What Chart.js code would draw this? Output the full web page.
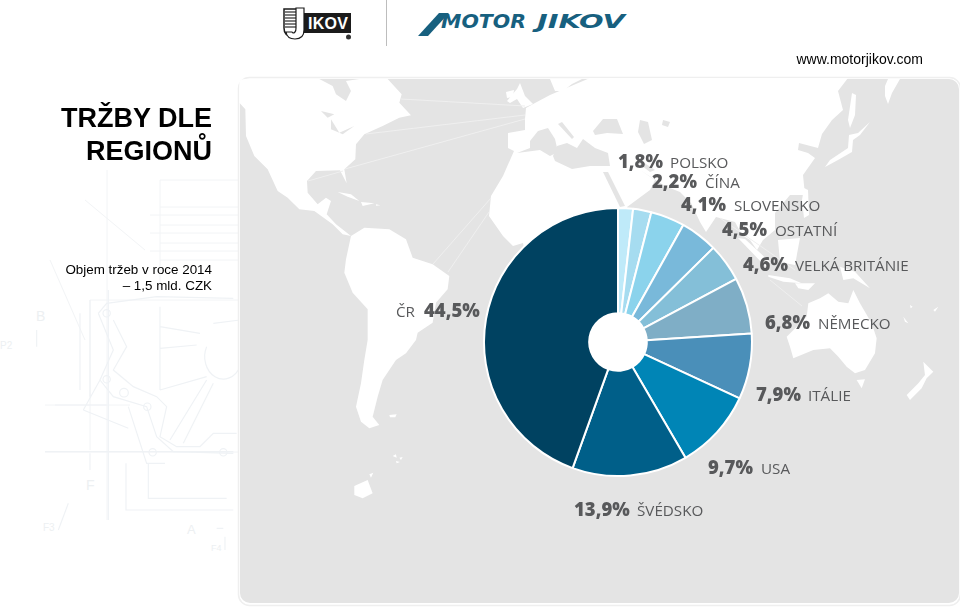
<!DOCTYPE html>
<html lang="cs">
<head>
<meta charset="utf-8">
<title>Tržby dle regionů</title>
<script src="https://cdn.jsdelivr.net/npm/chart.js@4"></script>
<style>
  html, body { margin: 0; padding: 0; background: #fff; }
  #page { position: relative; width: 960px; height: 608px; overflow: hidden; font-family: "Liberation Sans", sans-serif; }
  #backdrop, #chart { position: absolute; left: 0; top: 0; }
  .t { position: absolute; text-align: right; color: #000; white-space: nowrap; }
</style>
</head>
<body>
<div id="page">
  <svg id="backdrop" width="960" height="608" viewBox="0 0 960 608">
    <!-- faint technical drawing behind the heading -->
    <g fill="none" stroke="#f2f4f6" stroke-width="1">
      <path d="M107 170V520M160 180H238M160 180V290M160 207H238M160 225H238M160 243H238M160 260H238M150 215H238M150 233H238M150 251H238"/>
      <path d="M90 300H238M90 300V450M45 405H130M45 452H238M85 340L50 260M85 200L145 250"/>
    </g>
    <g transform="translate(0 290) scale(.3333)" fill="none" stroke="#eff2f5" stroke-width="3.500">
      <path d="M295 70L320 40L470 20L700 25M295 70L340 180L300 270L340 320L440 350L470 440L520 485L700 490"/>
      <path d="M340 90L380 170L340 240L400 290L470 320L500 350L480 440L530 470L600 470L640 430L710 430"/>
      <path d="M480 50L480 300M480 110L600 130M480 175L590 165M480 300L620 260M510 450L620 270M550 460L640 280M640 100L720 90M620 170A50 60 0 1 0 720 230"/>
      <path d="M250 360L300 270M250 360L385 415M385 350L440 520H495M135 485H700M165 345H320M240 70V300M270 30V320"/>
      <circle cx="320" cy="70" r="11"/><circle cx="320" cy="268" r="11"/><circle cx="442" cy="350" r="11"/><circle cx="458" cy="487" r="11"/><circle cx="670" cy="487" r="11"/><circle cx="372" cy="308" r="13"/>
      <path d="M445 520V625H680M378 520V660H700M325 0V690M205 640L175 720M270 490V540M110 120V170M650 715H670M675 740V780"/>
    </g>
    <g font-family="Liberation Sans" fill="#edf0f2">
      <text x="36" y="321" font-size="14">B</text>
      <text x="0" y="349" font-size="10">P2</text>
      <text x="86" y="490" font-size="14">F</text>
      <text x="43" y="531" font-size="10">F3</text>
      <text x="187" y="534" font-size="13">A</text>
      <text x="211" y="551" font-size="9">F4</text>
    </g>

    <!-- logos -->
    <g>
      <rect x="300" y="13" width="51" height="20" fill="#1b1b1b"/>
      <path d="M284 9H300V28Q300 36 292 36Q284 36 284 28Z" fill="#fff" stroke="#1b1b1b" stroke-width="1.500"/>
      <path d="M285 12H299M285 15H299M285 18H299M285 21H299M285 24H299M285 27H299" stroke="#555" stroke-width="1.500"/>
      <path d="M296 8H304V30Q304 39 295 39Q287 39 286 32H292Q293 34 295 32Q296 31 296 28Z" fill="#fff" stroke="#1b1b1b" stroke-width="1.200"/>
      <text x="308" y="29" font-family="Liberation Sans" font-weight="700" font-size="16" fill="#fff" textLength="40">IKOV</text>
      <circle cx="348.500" cy="37" r="2.500" fill="#333"/>
      <rect x="386" y="0" width="1" height="46" fill="#bdbdbd"/>
      <path d="M418 36L439 13H449L428 36Z" fill="#17607f"/>
      <text x="441" y="28" font-family="DejaVu Sans" font-weight="700" font-style="italic" font-size="20" fill="#17607f" textLength="85" lengthAdjust="spacingAndGlyphs">MOTOR</text>
      <text x="537" y="28" font-family="DejaVu Sans" font-weight="700" font-style="italic" font-size="20" fill="#17607f" textLength="88" lengthAdjust="spacingAndGlyphs">JIKOV</text>
    </g>

    <!-- map panel -->
    <rect x="238.500" y="77.500" width="722" height="528" rx="11" fill="#fff" stroke="#efefef" stroke-width="1.500"/>
    <rect x="240" y="79" width="719" height="524" rx="10" fill="#e4e4e4"/>
    <g fill="#fff">
      <!-- americas, drawn in crop coordinates -->
      <g transform="translate(236 76) scale(.3333)">
        <path d="M10 20Q10 9 30 9L250 9L290 30L300 55L330 75L345 45L330 15L370 9L455 9L497 55L490 80L525 118L490 125L440 150L385 175L360 205L358 250L325 280L332 322L312 283L240 285L213 315L215 350L245 385L270 365L285 375L272 415L300 445L345 480L320 475L290 445L235 405L190 400L155 365L125 345L95 280L55 240L30 180L28 100L10 80Z"/>
        <path d="M345 480L385 455L460 460L510 490L530 545L590 565L640 600L635 640L600 680L590 740L545 770L540 792L510 832L480 852L440 912L425 962L410 1022L430 1047L400 1057L375 1037L360 992L375 922L385 852L395 792L395 700L350 650L325 590L330 550Z"/>
        <path d="M305 348L345 355L370 375L335 362ZM375 378L415 382L380 390ZM420 385L433 388L420 389Z"/>
        <path d="M460 1017L482 1015L478 1024L462 1024ZM355 1230L395 1212L410 1252L380 1267L355 1257ZM400 1195L412 1190L405 1205ZM470 1140L480 1135L482 1145ZM490 1145L500 1143L495 1152ZM480 1155L492 1158L482 1162Z"/>
      </g>
      <!-- old world -->
      <path d="M525 119L526 108L535 103L550 95L590 78L848 78L838 91L843 110L832 120L822 134L818 148L799 143L798 150L808 153L815 158L803 175L805 195L790 195L775 213L775 230L763 240L757 250L750 240L742 235L735 222L716 217L706 232L700 222L691 203L680 192L665 186L640 170L655 180L650 190L627 207L670 400L560 400L523 243L513 246L503 236L489 216L491 196L503 176L514 151L508 148L508 133L525 130Z"/>
      <path d="M507 101L517 89L520 83L525 96L533 104L523 108L517 99L510 103Z"/>
      <path d="M506 92L514 90L513 97L507 98Z"/>
      <path d="M550 79L555 91L563 91L572 84L582 79Z"/>
      <path d="M885 86L888 79L900 79L892 93L888 104L885 96Z"/>
      <path d="M852 93L856 95L855 115L850 128L848 120Z"/>
      <path d="M870 122L858 133L849 135L848 148L830 160L825 167L838 160L852 152L853 140L860 135Z"/>
      <path d="M804 188L808 190L809 215L804 218L802 200Z"/>
      <path d="M738 238L745 239L770 262L766 267Z"/>
      <path d="M778 240L800 238L795 265L780 262Z"/>
      <g transform="translate(740 260) scale(.3333)">
        <path d="M85 45L150 55L185 70L130 65L85 50Z"/>
        <path d="M165 70L225 70L205 90L175 85Z"/>
        <path d="M300 20L345 35L390 85L365 70L340 55L310 60Z"/>
        <path d="M140 230L200 170L205 130L240 115L265 100L295 125L325 130L340 90L360 130L395 190L410 235L405 280L375 330L345 340L320 320L295 290L270 265L220 270L160 295L150 260Z"/>
        <path d="M350 360L375 358L365 385Z"/>
        <path d="M550 305L580 335L560 355L545 385L510 420L500 405L535 370L555 345Z"/>
        <path d="M490 170L505 190L495 185ZM580 150L595 140L585 155ZM510 135L518 140L512 145Z"/>
      </g>
    </g>
    <g fill="#e4e4e4">
      <!-- seas cut out of the land -->
      <path d="M517 153L530 148L530 141L538 131L548 128L555 139L558 152L550 156L540 150Z"/>
      <path d="M553 156L557 146L567 143L577 148L583 139L595 148L608 153L610 166L590 166L572 169L555 161Z"/>
      <path d="M558 124L572 139L574 137L562 122Z"/>
      <path d="M593 131L603 119L617 119L623 134L607 133L595 135Z"/>
      <path d="M640 120L648 122L652 140L644 144L638 132Z"/>
      <path d="M663 120L670 122L668 127L662 125Z"/>
      <path d="M603 172L608 172L625 206L620 207Z"/>
      <path d="M640 160L655 170L650 172L638 163Z"/>
      <g transform="translate(236 76) scale(.3333)">
        <path d="M255 105L295 115L275 125ZM285 130L310 170L285 160ZM310 170L355 150L320 175Z"/>
      </g>
    </g>
    <path d="M401 99L525 106M366 134L525 115M345 169L525 119M308 181L343 171M433 264L491 198M448 272L489 212M720 218L795 270M770 280L802 306" fill="none" stroke="#efefef" stroke-width="1"/>
  </svg>

  <canvas id="chart" width="960" height="608"></canvas>

  <div class="t" style="right:748px;top:102px;font-size:27px;font-weight:700;line-height:33px">TRŽBY DLE<br>REGIONŮ</div>
  <div class="t" style="right:748px;top:262px;font-size:13.400px;line-height:16px">Objem tržeb v roce 2014<br>– 1,5 mld. CZK</div>
  <div class="t" style="right:37px;top:50px;font-size:14px;line-height:18px">www.motorjikov.com</div>
</div>

<script>
// Clockwise from 12 o'clock
const regions = ["POLSKO", "ČÍNA", "SLOVENSKO", "OSTATNÍ", "VELKÁ BRITÁNIE", "NĚMECKO", "ITÁLIE", "USA", "ŠVÉDSKO", "ČR"];
const shares = [1.8, 2.2, 4.1, 4.5, 4.6, 6.8, 7.9, 9.7, 13.9, 44.5];
const sliceColors = ["#bfeaf9", "#a6dcf0", "#8bd3ec", "#79b9da", "#84bfd8", "#7faec6", "#4a8fb9", "#0085b6", "#005f89", "#004261"];

// Where each text sits: [x of percentage, x of name, baseline]
const labelSpots = [
  [618, 670, 168], [652, 705, 188], [681, 734, 211], [722, 775, 236], [743, 795, 271],
  [765, 818, 329], [756, 808, 401], [708, 761, 474], [574, 637, 516], [424, 396, 317]
];

const pctText = v => v.toFixed(1).replace(".", ",") + "%";

const sliceLabels = {
  id: "sliceLabels",
  afterDraw(chart) {
    const ctx = chart.ctx;
    ctx.save();
    ctx.fillStyle = "#58595b";
    ctx.textBaseline = "alphabetic";
    shares.forEach((v, i) => {
      const [px, nx, y] = labelSpots[i];
      ctx.font = '800 18.500px "Open Sans"';
      ctx.fillText(pctText(v), px, y);
      ctx.font = '400 15.200px "Open Sans"';
      ctx.fillText(regions[i], nx, y);
    });
    ctx.restore();
  }
};

new Chart(document.getElementById("chart"), {
  type: "doughnut",
  data: {
    labels: regions,
    datasets: [{
      data: shares,
      backgroundColor: sliceColors,
      borderColor: "#fff",
      borderWidth: 2
    }]
  },
  options: {
    responsive: false,
    animation: false,
    cutout: "21.5%",
    layout: { padding: { left: 483, right: 207, top: 207, bottom: 131 } },
    plugins: {
      legend: { display: false },
      tooltip: { enabled: false }
    }
  },
  plugins: [sliceLabels]
});
</script>
</body>
</html>
